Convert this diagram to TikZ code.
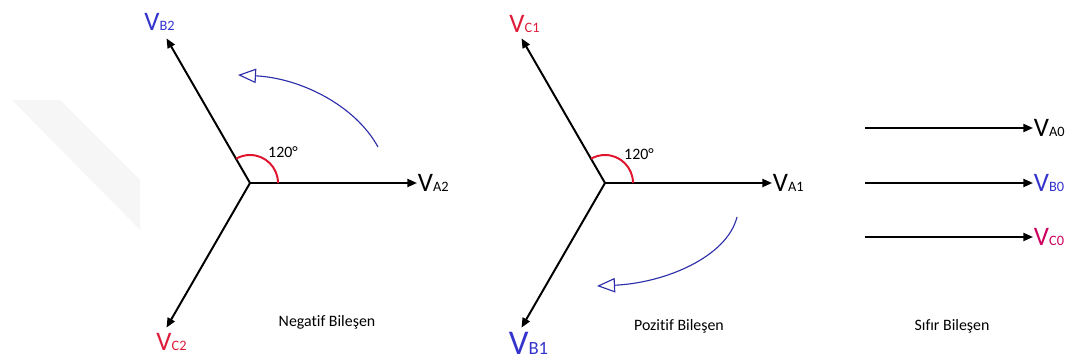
\documentclass[tikz,border=0pt]{standalone}
\usepackage{fontspec}
\setmainfont{Carlito}[Ligatures=NoCommon]
\usepackage{xcolor}
\usetikzlibrary{arrows.meta,positioning,calc}
\definecolor{vblue}{RGB}{52,52,205}
\definecolor{vred}{RGB}{222,28,58}
\definecolor{vmag}{RGB}{205,0,95}
\definecolor{rotblue}{RGB}{45,45,170}
\definecolor{angred}{RGB}{225,20,45}
\newcommand{\phasor}[2]{{\fontsize{19}{21}\selectfont V}{\fontsize{10.2}{11}\selectfont #1#2}}

\begin{document}
\begin{tikzpicture}[x=0.025cm,y=0.025cm,
  ph/.style={-{Triangle[length=2.4mm,width=2mm]},line width=1.4pt},
  ang/.style={angred,line width=1.4pt},
  rot/.style={-{Triangle[open,length=4.5mm,width=3.6mm]},rotblue,line width=0.8pt},
  vlab/.style={inner sep=0.5pt},
  capt/.style={font=\fontsize{11.3}{13}\selectfont}]
  \useasboundingbox (0,0) rectangle (1078,361);
  \fill[gray!7] (12,261) -- (60,261) -- (140,181) -- (140,131) -- cycle;
  % negative sequence
  \coordinate (o1) at (250,178);
  \coordinate (a2) at ([shift={(0:167)}]o1);
  \coordinate (b2) at ([shift={(120:167)}]o1);
  \coordinate (c2) at ([shift={(240:167)}]o1);
  \draw[ph] (o1) -- (a2);
  \draw[ph] (o1) -- (b2);
  \draw[ph] (o1) -- (c2);
  \node[vlab,anchor=west] (la2) at (a2) {\phasor{A}{2}};
  \node[vlab,anchor=south,text=vblue] (lb2) at ([shift={(-7,7)}]b2) {\phasor{B}{2}};
  \node[vlab,anchor=north,text=vred] (lc2) at ([shift={(5,-5)}]c2) {\phasor{C}{2}};
  \draw[ang] ([shift={(0:28)}]o1) arc[start angle=0,end angle=120,radius=28];
  \node[capt] (g2) at ([shift={(33,31)}]o1) {120°};
  \coordinate (r2s) at (378,214);
  \coordinate (r2e) at (238,286);
  \draw[rot] (r2s) .. controls (355,256) and (300,283) .. (r2e);
  \node[capt] (t2) at (327,39) {Negatif Bileşen};
  % positive sequence
  \coordinate (o2) at (605,178);
  \coordinate (a1) at ([shift={(0:167)}]o2);
  \coordinate (b1) at ([shift={(240:167)}]o2);
  \coordinate (c1) at ([shift={(120:167)}]o2);
  \draw[ph] (o2) -- (a1);
  \draw[ph] (o2) -- (b1);
  \draw[ph] (o2) -- (c1);
  \node[vlab,anchor=west] (la1) at (a1) {\phasor{A}{1}};
  \node[vlab,anchor=north,text=vblue,scale=1.3] (lb1) at ([shift={(7,-3)}]b1) {\phasor{B}{1}};
  \node[vlab,anchor=south,text=vred] (lc1) at ([shift={(3,5)}]c1) {\phasor{C}{1}};
  \draw[ang] ([shift={(0:28)}]o2) arc[start angle=0,end angle=120,radius=28];
  \node[capt] (g1) at ([shift={(34,29)}]o2) {120°};
  \coordinate (r1s) at (737,144);
  \coordinate (r1e) at (597,75);
  \draw[rot] (r1s) .. controls (727,104) and (665,78) .. (r1e);
  \node[capt] (t1) at (679,35) {Pozitif Bileşen};
  % zero sequence
  \foreach \n/\y/\c in {A/233/black,B/178/vblue,C/124/vmag}{
    \coordinate (s\n) at (865,\y);
    \coordinate (e\n) at (1033,\y);
    \draw[ph] (s\n) -- (e\n);
    \node[vlab,anchor=west,text=\c] (l\n0) at (e\n) {\phasor{\n}{0}};
  }
  \node[capt] (t0) at (952,35) {Sıfır Bileşen};
\end{tikzpicture}
\end{document}
